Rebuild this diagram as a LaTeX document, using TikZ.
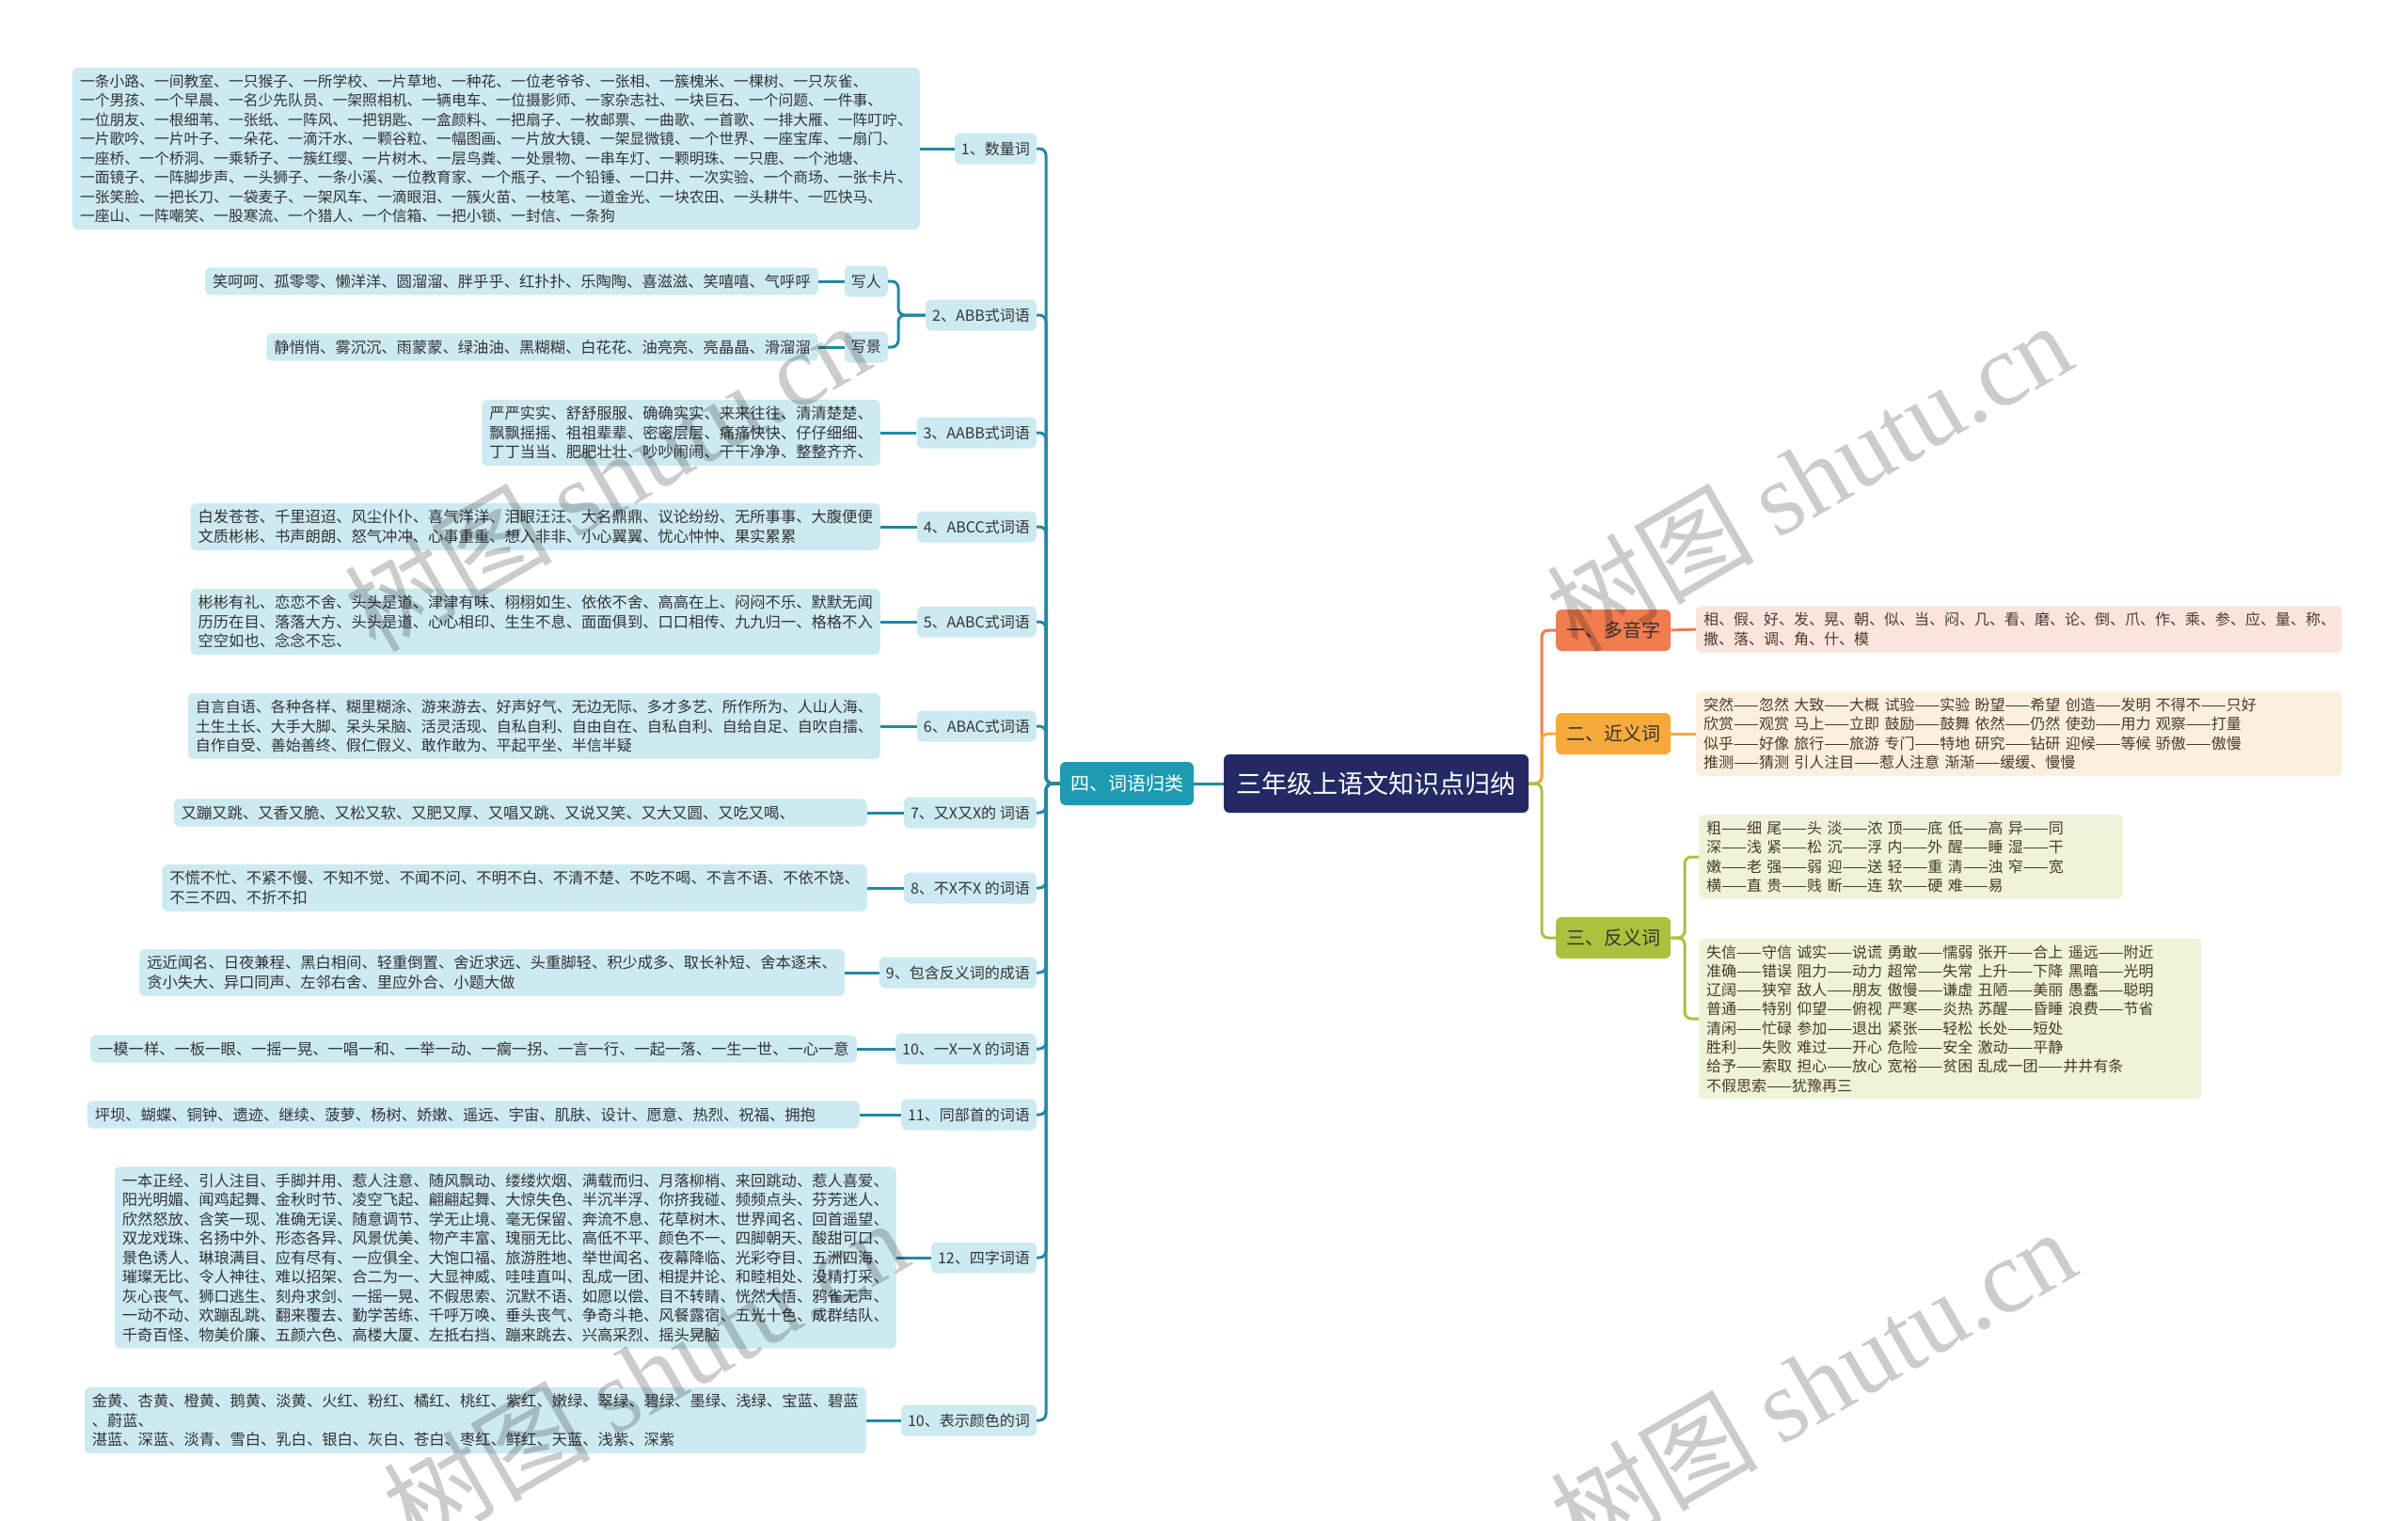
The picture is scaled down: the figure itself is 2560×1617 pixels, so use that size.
\documentclass[tikz,border=0pt]{standalone}
\usepackage{fontspec}
\setmainfont{Noto Sans CJK SC}
\newfontfamily\wmlatin{Liberation Serif}
\newfontfamily\rfont[WordSpace=2.5]{Noto Sans CJK SC}
\usetikzlibrary{positioning}

\definecolor{rootnavy}{HTML}{232A63}
\definecolor{citeal}{HTML}{1C9BB3}
\definecolor{twigteal}{HTML}{2189A2}
\definecolor{leafblue}{HTML}{CDEAF2}
\definecolor{leaftext}{HTML}{333333}
\definecolor{duored}{HTML}{F27B4F}
\definecolor{duoleaf}{HTML}{FCE4DE}
\definecolor{jinorange}{HTML}{F6AA3B}
\definecolor{jinleaf}{HTML}{FDEFDD}
\definecolor{fangreen}{HTML}{A9C23D}
\definecolor{fanleaf}{HTML}{EFF3D9}
\definecolor{browntext}{HTML}{4A3A28}

\tikzset{
  leaf/.style={fill=leafblue, rounded corners=6pt, inner xsep=8pt, inner ysep=7pt,
    align=left, text=leaftext, font=\fontsize{16.3}{20.5}\selectfont},
  cat/.style={fill=leafblue, rounded corners=6pt, inner xsep=7pt, minimum height=33pt,
    text=leaftext, font=\fontsize{16}{20}\selectfont},
  twig/.style={draw=twigteal, line width=3pt, rounded corners=7pt},
  topic/.style={rounded corners=6pt, minimum width=122pt, minimum height=44pt,
    text=leaftext, font=\fontsize{20}{24}\selectfont},
  rleaf/.style={rounded corners=6pt, inner xsep=8pt, inner ysep=7pt, align=left,
    text=browntext, font=\rfont\fontsize{16}{20.3}\selectfont},
  wm/.style={text=black, opacity=0.2, font=\fontsize{110}{110}\selectfont}
}

\begin{document}
\begin{tikzpicture}[x=1pt,y=-1pt]
\useasboundingbox (0,0) rectangle (2560,1617);

% centre
\node[fill=rootnavy, text=white, rounded corners=6pt, minimum width=324pt, minimum height=62pt,
  font=\fontsize{27}{30}\selectfont] (root) at (1463,833) {三年级上语文知识点归纳};
\node[fill=citeal, text=white, rounded corners=6pt, minimum width=142pt, minimum height=46pt,
  font=\fontsize{20}{24}\selectfont] (ci) at (1198,833) {四、词语归类};

% left labels
\node[cat, anchor=east] (c1) at (1102,158) {1、数量词};
\node[cat, anchor=east] (c2) at (1102,335) {2、ABB式词语};
\node[cat, anchor=east] (c3) at (1102,460) {3、AABB式词语};
\node[cat, anchor=east] (c4) at (1102,560) {4、ABCC式词语};
\node[cat, anchor=east] (c5) at (1102,661) {5、AABC式词语};
\node[cat, anchor=east] (c6) at (1102,772) {6、ABAC式词语};
\node[cat, anchor=east] (c7) at (1102,864) {7、又X又X的 词语};
\node[cat, anchor=east] (c8) at (1102,944) {8、不X不X 的词语};
\node[cat, anchor=east] (c9) at (1102,1034) {9、包含反义词的成语};
\node[cat, anchor=east] (c10) at (1102,1115) {10、一X一X 的词语};
\node[cat, anchor=east] (c11) at (1102,1185) {11、同部首的词语};
\node[cat, anchor=east] (c12) at (1102,1337) {12、四字词语};
\node[cat, anchor=east] (c13) at (1102,1510) {10、表示颜色的词};
\node[cat, anchor=east] (xieren) at (944,299) {写人};
\node[cat, anchor=east] (xiejing) at (944,369) {写景};

% left leaves
\node[leaf, anchor=east, font=\fontsize{15.8}{20.5}\selectfont] (w1) at (978,158) {一条小路、一间教室、一只猴子、一所学校、一片草地、一种花、一位老爷爷、一张相、一簇槐米、一棵树、一只灰雀、\\
一个男孩、一个早晨、一名少先队员、一架照相机、一辆电车、一位摄影师、一家杂志社、一块巨石、一个问题、一件事、\\
一位朋友、一根细苇、一张纸、一阵风、一把钥匙、一盒颜料、一把扇子、一枚邮票、一曲歌、一首歌、一排大雁、一阵叮咛、\\
一片歌吟、一片叶子、一朵花、一滴汗水、一颗谷粒、一幅图画、一片放大镜、一架显微镜、一个世界、一座宝库、一扇门、\\
一座桥、一个桥洞、一乘轿子、一簇红缨、一片树木、一层鸟粪、一处景物、一串车灯、一颗明珠、一只鹿、一个池塘、\\
一面镜子、一阵脚步声、一头狮子、一条小溪、一位教育家、一个瓶子、一个铅锤、一口井、一次实验、一个商场、一张卡片、\\
一张笑脸、一把长刀、一袋麦子、一架风车、一滴眼泪、一簇火苗、一枝笔、一道金光、一块农田、一头耕牛、一匹快马、\\
一座山、一阵嘲笑、一股寒流、一个猎人、一个信箱、一把小锁、一封信、一条狗};
\node[leaf, anchor=east] (w2a) at (870,299) {笑呵呵、孤零零、懒洋洋、圆溜溜、胖乎乎、红扑扑、乐陶陶、喜滋滋、笑嘻嘻、气呼呼};
\node[leaf, anchor=east] (w2b) at (870,369) {静悄悄、雾沉沉、雨蒙蒙、绿油油、黑糊糊、白花花、油亮亮、亮晶晶、滑溜溜};
\node[leaf, anchor=east] (w3) at (936,460) {严严实实、舒舒服服、确确实实、来来往往、清清楚楚、\\
飘飘摇摇、祖祖辈辈、密密层层、痛痛快快、仔仔细细、\\
丁丁当当、肥肥壮壮、吵吵闹闹、干干净净、整整齐齐、};
\node[leaf, anchor=east] (w4) at (936,560) {白发苍苍、千里迢迢、风尘仆仆、喜气洋洋、泪眼汪汪、大名鼎鼎、议论纷纷、无所事事、大腹便便\\
文质彬彬、书声朗朗、怒气冲冲、心事重重、想入非非、小心翼翼、忧心忡忡、果实累累};
\node[leaf, anchor=east] (w5) at (936,661) {彬彬有礼、恋恋不舍、头头是道、津津有味、栩栩如生、依依不舍、高高在上、闷闷不乐、默默无闻\\
历历在目、落落大方、头头是道、心心相印、生生不息、面面俱到、口口相传、九九归一、格格不入\\
空空如也、念念不忘、};
\node[leaf, anchor=east, font=\fontsize{16}{20.5}\selectfont] (w6) at (936,772) {自言自语、各种各样、糊里糊涂、游来游去、好声好气、无边无际、多才多艺、所作所为、人山人海、\\
土生土长、大手大脚、呆头呆脑、活灵活现、自私自利、自由自在、自私自利、自给自足、自吹自擂、\\
自作自受、善始善终、假仁假义、敢作敢为、平起平坐、半信半疑};
\node[leaf, anchor=east, text width=721pt] (w7) at (922,864) {又蹦又跳、又香又脆、又松又软、又肥又厚、又唱又跳、又说又笑、又大又圆、又吃又喝、};
\node[leaf, anchor=east] (w8) at (922,944) {不慌不忙、不紧不慢、不知不觉、不闻不问、不明不白、不清不楚、不吃不喝、不言不语、不依不饶、\\
不三不四、不折不扣};
\node[leaf, anchor=east] (w9) at (898,1034) {远近闻名、日夜兼程、黑白相间、轻重倒置、舍近求远、头重脚轻、积少成多、取长补短、舍本逐末、\\
贪小失大、异口同声、左邻右舍、里应外合、小题大做};
\node[leaf, anchor=east] (w10) at (911,1115) {一模一样、一板一眼、一摇一晃、一唱一和、一举一动、一瘸一拐、一言一行、一起一落、一生一世、一心一意};
\node[leaf, anchor=east, text width=805pt] (w11) at (914,1185) {坪坝、蝴蝶、铜钟、遗迹、继续、菠萝、杨树、娇嫩、遥远、宇宙、肌肤、设计、愿意、热烈、祝福、拥抱};
\node[leaf, anchor=east] (w12) at (953,1337) {一本正经、引人注目、手脚并用、惹人注意、随风飘动、缕缕炊烟、满载而归、月落柳梢、来回跳动、惹人喜爱、\\
阳光明媚、闻鸡起舞、金秋时节、凌空飞起、翩翩起舞、大惊失色、半沉半浮、你挤我碰、频频点头、芬芳迷人、\\
欣然怒放、含笑一现、准确无误、随意调节、学无止境、毫无保留、奔流不息、花草树木、世界闻名、回首遥望、\\
双龙戏珠、名扬中外、形态各异、风景优美、物产丰富、瑰丽无比、高低不平、颜色不一、四脚朝天、酸甜可口、\\
景色诱人、琳琅满目、应有尽有、一应俱全、大饱口福、旅游胜地、举世闻名、夜幕降临、光彩夺目、五洲四海、\\
璀璨无比、令人神往、难以招架、合二为一、大显神威、哇哇直叫、乱成一团、相提并论、和睦相处、没精打采、\\
灰心丧气、狮口逃生、刻舟求剑、一摇一晃、不假思索、沉默不语、如愿以偿、目不转睛、恍然大悟、鸦雀无声、\\
一动不动、欢蹦乱跳、翻来覆去、勤学苦练、千呼万唤、垂头丧气、争奇斗艳、风餐露宿、五光十色、成群结队、\\
千奇百怪、物美价廉、五颜六色、高楼大厦、左抵右挡、蹦来跳去、兴高采烈、摇头晃脑};
\node[leaf, anchor=east] (w13) at (921,1510) {金黄、杏黄、橙黄、鹅黄、淡黄、火红、粉红、橘红、桃红、紫红、嫩绿、翠绿、碧绿、墨绿、浅绿、宝蓝、碧蓝\\
、蔚蓝、\\
湛蓝、深蓝、淡青、雪白、乳白、银白、灰白、苍白、枣红、鲜红、天蓝、浅紫、深紫};

% left connectors
\draw[twig] (root.west) -- (ci.east);
\foreach \n in {c1,c2,c3,c4,c5,c6,c7,c8,c9,c10,c11,c12,c13}
  \draw[twig] (ci.west) -- (1112,833) |- (\n.east);
\foreach \l/\n in {w1/c1,w3/c3,w4/c4,w5/c5,w6/c6,w7/c7,w8/c8,w9/c9,w10/c10,w11/c11,w12/c12,w13/c13}
  \draw[twig] (\l.east) -- (\n.west);
\draw[twig] (c2.west) -- (955,335) |- (xieren.east);
\draw[twig] (c2.west) -- (955,335) |- (xiejing.east);
\draw[twig] (w2a.east) -- (xieren.west);
\draw[twig] (w2b.east) -- (xiejing.west);

% right side
\node[topic, fill=duored, anchor=west] (duo) at (1654,670) {一、多音字};
\node[topic, fill=jinorange, anchor=west] (jin) at (1654,780) {二、近义词};
\node[topic, fill=fangreen, anchor=west] (fan) at (1654,997) {三、反义词};

\node[rleaf, fill=duoleaf, anchor=west, text width=671pt] (duoL) at (1803,669) {相、假、好、发、晃、朝、似、当、闷、几、看、磨、论、倒、爪、作、乘、参、应、量、称、\\
撒、落、调、角、什、模};
\node[rleaf, fill=jinleaf, anchor=west, text width=671pt] (jinL) at (1803,780) {突然——忽然 大致——大概 试验——实验 盼望——希望 创造——发明 不得不——只好\\
欣赏——观赏 马上——立即 鼓励——鼓舞 依然——仍然 使劲——用力 观察——打量\\
似乎——好像 旅行——旅游 专门——特地 研究——钻研 迎候——等候 骄傲——傲慢\\
推测——猜测 引人注目——惹人注意 渐渐——缓缓、慢慢};
\node[rleaf, fill=fanleaf, anchor=west, text width=435pt] (fanA) at (1806,911) {粗——细 尾——头 淡——浓 顶——底 低——高 异——同\\
深——浅 紧——松 沉——浮 内——外 醒——睡 湿——干\\
嫩——老 强——弱 迎——送 轻——重 清——浊 窄——宽\\
横——直 贵——贱 断——连 软——硬 难——易};
\node[rleaf, fill=fanleaf, anchor=west, text width=518pt] (fanB) at (1806,1083) {失信——守信 诚实——说谎 勇敢——懦弱 张开——合上 遥远——附近\\
准确——错误 阻力——动力 超常——失常 上升——下降 黑暗——光明\\
辽阔——狭窄 敌人——朋友 傲慢——谦虚 丑陋——美丽 愚蠢——聪明\\
普通——特别 仰望——俯视 严寒——炎热 苏醒——昏睡 浪费——节省\\
清闲——忙碌 参加——退出 紧张——轻松 长处——短处\\
胜利——失败 难过——开心 危险——安全 激动——平静\\
给予——索取 担心——放心 宽裕——贫困 乱成一团——井井有条\\
不假思索——犹豫再三};

\draw[twig, draw=duored] (root.east) -- (1639,833) |- (duo.west);
\draw[twig, draw=jinorange] (root.east) -- (1639,833) |- (jin.west);
\draw[twig, draw=fangreen] (root.east) -- (1639,833) |- (fan.west);
\draw[twig, draw=duored] (duo.east) -- (duoL.west);
\draw[twig, draw=jinorange] (jin.east) -- (jinL.west);
\draw[twig, draw=fangreen] (fan.east) -- (1791,997) |- (fanA.west);
\draw[twig, draw=fangreen] (fan.east) -- (1791,997) |- (fanB.west);

% watermarks
\node[wm, rotate=30] (wm1) at (645,506) {树图 {\wmlatin shutu.cn}};
\node[wm, rotate=30] (wm2) at (1923,506) {树图 {\wmlatin shutu.cn}};
\node[wm, rotate=30] (wm3) at (686,1460) {树图 {\wmlatin shutu.cn}};
\node[wm, rotate=30] (wm4) at (1927,1470) {树图 {\wmlatin shutu.cn}};
\end{tikzpicture}
\end{document}
